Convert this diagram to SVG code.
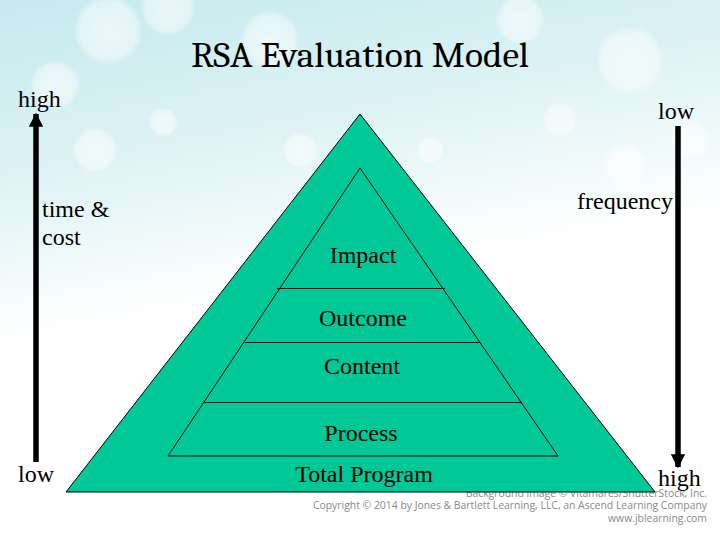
<svg xmlns="http://www.w3.org/2000/svg" width="720" height="540" viewBox="0 0 720 540">
<defs>
<linearGradient id="bg" x1="0" y1="0" x2="0.25" y2="1">
<stop offset="0" stop-color="#c6eaef"/>
<stop offset="0.3" stop-color="#dcf2f4"/>
<stop offset="0.6" stop-color="#ffffff"/>
<stop offset="1" stop-color="#ffffff"/>
</linearGradient>
<radialGradient id="bokeh">
<stop offset="0" stop-color="#ffffff" stop-opacity="0.6"/>
<stop offset="0.8" stop-color="#ffffff" stop-opacity="0.45"/>
<stop offset="1" stop-color="#ffffff" stop-opacity="0"/>
</radialGradient>
<marker id="head" viewBox="0 0 10 10" refX="9" refY="5" markerWidth="2.6" markerHeight="2.6" orient="auto" markerUnits="strokeWidth">
<path d="M0,0 L10,5 L0,10 z" fill="#000"/>
</marker>
<style>
.t{font-family:"Times New Roman",Times,Tinos,"Liberation Serif","Noto Serif","DejaVu Serif",FreeSerif,serif;font-size:24px;fill:#000}
.c{text-anchor:middle}
.cr{font-family:"Open Sans","Liberation Sans",sans-serif;font-size:10.4px;fill:#8a8a8a;text-anchor:end}
.ln{stroke:#000;stroke-width:1;fill:none}
.arr{stroke:#000;stroke-width:5.5;fill:none}
.ttl{font-family:Cambria,"Times New Roman",Times,Tinos,"Liberation Serif","Noto Serif","DejaVu Serif",serif;font-size:36px;text-anchor:middle;fill:#000}
</style>
</defs>
<g id="background">
<rect width="720" height="540" fill="url(#bg)"/>
<circle cx="108" cy="30" r="35" fill="url(#bokeh)"/>
<circle cx="168" cy="8" r="28" fill="url(#bokeh)"/>
<circle cx="95" cy="150" r="23" fill="url(#bokeh)"/>
<circle cx="163" cy="122" r="15" fill="url(#bokeh)"/>
<circle cx="55" cy="85" r="25" fill="url(#bokeh)"/>
<circle cx="270" cy="40" r="30" fill="url(#bokeh)"/>
<circle cx="300" cy="150" r="18" fill="url(#bokeh)"/>
<circle cx="630" cy="60" r="35" fill="url(#bokeh)"/>
<circle cx="690" cy="140" r="20" fill="url(#bokeh)"/>
<circle cx="625" cy="165" r="22" fill="url(#bokeh)"/>
<circle cx="520" cy="20" r="25" fill="url(#bokeh)"/>
<circle cx="430" cy="150" r="14" fill="url(#bokeh)"/>
<circle cx="560" cy="120" r="18" fill="url(#bokeh)"/>
<text class="cr" x="707" y="497">Background image © Vitamares/ShutterStock, Inc.</text>
<text class="cr" x="707" y="509">Copyright © 2014 by Jones &amp; Bartlett Learning, LLC, an Ascend Learning Company</text>
<text class="cr" x="707" y="522">www.jblearning.com</text>
</g>
<text id="title" class="ttl" x="360" y="67" textLength="338" lengthAdjust="spacingAndGlyphs">RSA Evaluation Model</text>
<g id="pyramid">
<polygon points="360,114 66,492 655,492" fill="#00c896" stroke="#000" stroke-width="1"/>
<polyline class="ln" points="168,456 360,168 558,456 168,456"/>
<line class="ln" x1="277" y1="288.5" x2="445" y2="288.5"/>
<line class="ln" x1="245" y1="342.5" x2="480" y2="342.5"/>
<line class="ln" x1="203" y1="402.5" x2="522" y2="402.5"/>
</g>
<g id="levels">
<text class="t c" x="363" y="263">Impact</text>
<text class="t c" x="363" y="326">Outcome</text>
<text class="t c" x="362" y="374">Content</text>
<text class="t c" x="361" y="441">Process</text>
<text class="t c" x="364" y="482">Total Program</text>
</g>
<g id="connectors">
<line class="arr" x1="36" y1="462" x2="36" y2="114" marker-end="url(#head)"/>
<line class="arr" x1="678" y1="126" x2="678" y2="467" marker-end="url(#head)"/>
</g>
<g id="left-axis">
<text class="t" x="18" y="107">high</text>
<text class="t" x="42" y="217">time &amp;</text>
<text class="t" x="42" y="245">cost</text>
<text class="t" x="18" y="482">low</text>
</g>
<g id="right-axis">
<text class="t" x="658" y="119">low</text>
<text class="t" x="577" y="209">frequency</text>
<text class="t" x="658" y="486">high</text>
</g>
</svg>
